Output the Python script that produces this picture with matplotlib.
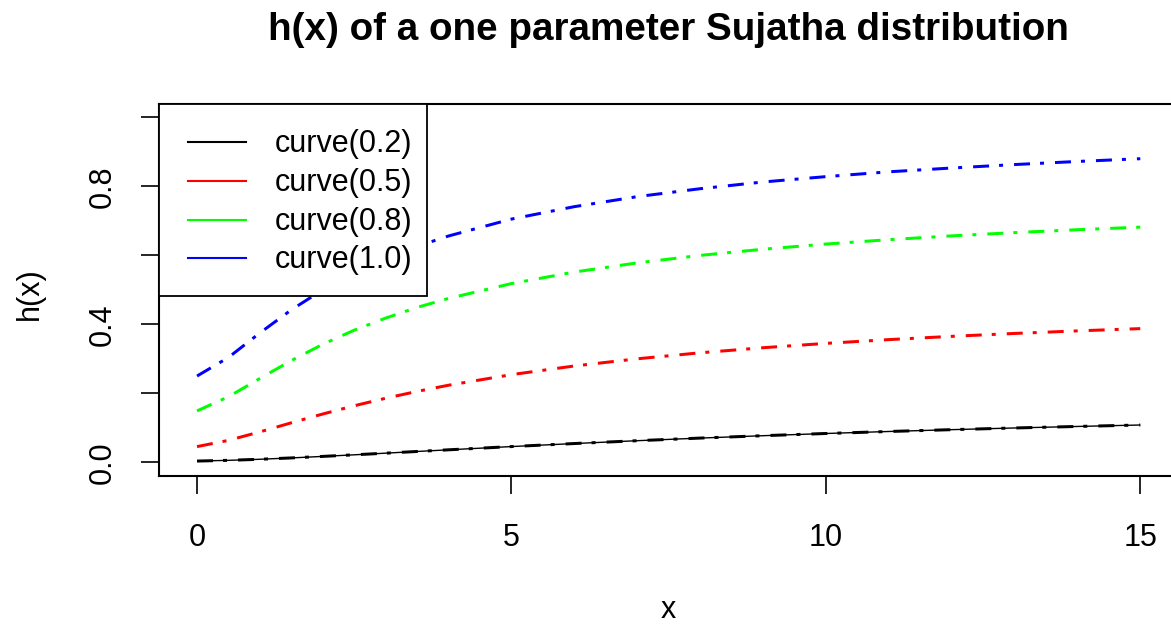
import matplotlib
matplotlib.use("Agg")
import matplotlib.pyplot as plt
from matplotlib.lines import Line2D
from matplotlib.patches import Rectangle

plt.rcParams['font.family'] = ['Liberation Sans', 'DejaVu Sans']
plt.rcParams['lines.scale_dashes'] = False

# data
x = [0, 0.5, 1, 1.5, 2, 2.5, 3, 3.5, 4, 5, 6, 7, 8, 9, 10, 11, 12, 13, 14, 15]
h_02 = [0.0036, 0.0057, 0.0088, 0.0127, 0.0171, 0.0217, 0.0265, 0.0314, 0.0362, 0.0456,
        0.0544, 0.0626, 0.0702, 0.0771, 0.0835, 0.0893, 0.0946, 0.0995, 0.1039, 0.1081]
h_05 = [0.0455, 0.0636, 0.0882, 0.1145, 0.140, 0.1639, 0.1857, 0.2055, 0.2234, 0.2541,
        0.2792, 0.300, 0.3174, 0.3321, 0.3447, 0.3556, 0.3651, 0.3735, 0.3809, 0.3875]
h_08 = [0.149, 0.190, 0.243, 0.295, 0.342, 0.383, 0.418, 0.449, 0.475, 0.518,
        0.5515, 0.578, 0.5997, 0.6176, 0.6326, 0.6453, 0.6563, 0.6658, 0.6742, 0.6816]
h_10 = [0.250, 0.304, 0.375, 0.442, 0.500, 0.549, 0.591, 0.626, 0.656, 0.705,
        0.741, 0.770, 0.793, 0.8125, 0.828, 0.842, 0.853, 0.863, 0.872, 0.880]
series = [h_02, h_05, h_08, h_10]
labels = ["curve(0.2)", "curve(0.5)", "curve(0.8)", "curve(1.0)"]
colors = ["black", "red", "#00ff00", "blue"]
x_ticks = [0, 5, 10, 15]
y_ticks = [0.0, 0.2, 0.4, 0.6, 0.8, 1.0]
y_ticklabels = ["0.0", "", "0.4", "", "0.8", ""]

W, H = 1171, 626
fig = plt.figure(figsize=(W / 100, H / 100), dpi=100)
ax_l, ax_r, ax_t, ax_b = 159.3, 1178.0, 103.5, 476.1
ax = fig.add_axes([ax_l / W, 1 - ax_b / H, (ax_r - ax_l) / W, (ax_b - ax_t) / H])

def fx(p):
    return p / W

def fy(p):
    return 1 - p / H

px = 0.72
dash = (0, (16 * px, 10 * px, 4 * px, 11 * px))
ax.plot(x, h_02, color="black", lw=1.0, solid_capstyle='butt')
for ys, c in zip(series, colors):
    ax.plot(x, ys, color=c, lw=3 * px, linestyle=dash)

ax.set_xlim(-0.6, 15.6)
ax.set_ylim(-0.04, 1.04)
ax.set_xticks(x_ticks)
ax.set_xticklabels([str(v) for v in x_ticks])
ax.set_yticks(y_ticks)
ax.set_yticklabels(y_ticklabels, rotation=90, va='center')
for s in ax.spines.values():
    s.set_linewidth(1.5)
ax.tick_params(axis='both', direction='out', length=13, width=1.2, labelsize=22, colors='black')
ax.tick_params(axis='x', pad=21)
ax.tick_params(axis='y', pad=17)

fig.text(668.5 / W, 1 - 30 / H, "h(x) of a one parameter Sujatha distribution",
         ha='center', va='center', fontsize=27.8, fontweight='bold')
fig.text(668.5 / W, 1 - 625 / H, "x", ha='center', va='bottom', fontsize=22)
fig.text(30 / W, 1 - 294 / H, "h(x)", ha='center', va='center', fontsize=22, rotation=90)

# legend (drawn like R's legend box, top-left)
tr = fig.transFigure
leg_l, leg_r, leg_t, leg_b = 158.5, 426.7, 103.5, 295.5
ax.add_patch(Rectangle((fx(leg_l), fy(leg_b)), fx(leg_r) - fx(leg_l), fy(leg_t) - fy(leg_b),
                       transform=tr, facecolor='white', edgecolor='black', lw=1.3,
                       zorder=5, clip_on=False))
rows = [141.7, 181.0, 220.0, 258.3]
for yy, c, lab in zip(rows, colors, labels):
    ax.add_line(Line2D([fx(188), fx(246)], [fy(yy), fy(yy)], transform=tr, color=c,
                       lw=1.5, zorder=6, clip_on=False))
    ax.text(fx(275), fy(yy + 2), lab, transform=tr, ha='left', va='center',
            fontsize=22, zorder=6, clip_on=False)

fig.savefig("out.png", dpi=100)
